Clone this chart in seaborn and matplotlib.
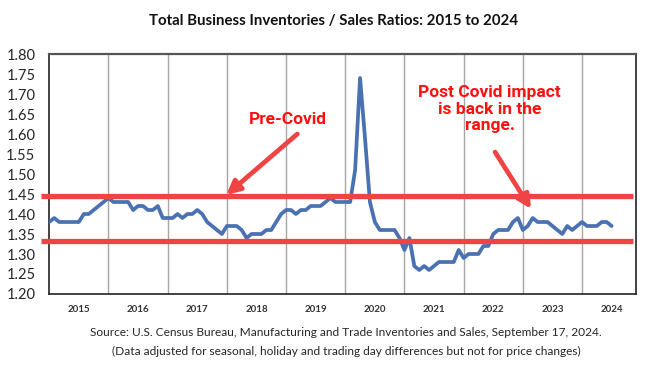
import numpy as np
import pandas as pd
import matplotlib
matplotlib.use("Agg")
import matplotlib.pyplot as plt
import seaborn as sns

# monthly inventories/sales ratio, Jan 2015 .. Jul 2024
start_year = 2015
ratios = [
    1.38, 1.39, 1.38, 1.38, 1.38, 1.38, 1.38, 1.40, 1.40, 1.41, 1.42, 1.43,  # 2015
    1.44, 1.43, 1.43, 1.43, 1.43, 1.41, 1.42, 1.42, 1.41, 1.41, 1.42, 1.39,  # 2016
    1.39, 1.39, 1.40, 1.39, 1.40, 1.40, 1.41, 1.40, 1.38, 1.37, 1.36, 1.35,  # 2017
    1.37, 1.37, 1.37, 1.36, 1.34, 1.35, 1.35, 1.35, 1.36, 1.36, 1.38, 1.40,  # 2018
    1.41, 1.41, 1.40, 1.41, 1.41, 1.42, 1.42, 1.42, 1.43, 1.44, 1.43, 1.43,  # 2019
    1.43, 1.43, 1.51, 1.74, 1.59, 1.43, 1.38, 1.36, 1.36, 1.36, 1.36, 1.34,  # 2020
    1.31, 1.34, 1.27, 1.26, 1.27, 1.26, 1.27, 1.28, 1.28, 1.28, 1.28, 1.31,  # 2021
    1.29, 1.30, 1.30, 1.30, 1.32, 1.32, 1.35, 1.36, 1.36, 1.36, 1.38, 1.39,  # 2022
    1.36, 1.37, 1.39, 1.38, 1.38, 1.38, 1.37, 1.36, 1.35, 1.37, 1.36, 1.37,  # 2023
    1.38, 1.37, 1.37, 1.37, 1.38, 1.38, 1.37,                                # 2024
]
years = list(range(2015, 2025))
year_labels = [str(y) for y in years]
yticks = [1.20, 1.25, 1.30, 1.35, 1.40, 1.45, 1.50, 1.55, 1.60, 1.65, 1.70, 1.75, 1.80]
range_high = 1.445
range_low = 1.333

df = pd.DataFrame({"t": start_year + np.arange(len(ratios)) / 12.0, "ratio": ratios})

sns.set_style("white")
plt.rcParams["font.family"] = ["Lato", "DejaVu Sans"]

fig = plt.figure(figsize=(6.58, 3.73), dpi=100)
ax = fig.add_axes([0.0749, 0.2118, 0.8917, 0.6434])

# year separators
for y in years[1:]:
    ax.axvline(y, color="#a6a6a6", lw=1.0, zorder=1)

sns.lineplot(data=df, x="t", y="ratio", ax=ax, color="#4a72b2", lw=2.7, zorder=3)

red = "#f04444"
for lvl in [range_high, range_low]:
    ax.plot([start_year - 0.14, start_year + 9.86], [lvl, lvl], color=red, lw=3.8,
            solid_capstyle="butt", clip_on=False, zorder=4)

ax.set_xlim(start_year, start_year + 9.912)
ax.set_ylim(1.20, 1.80)
ax.set_yticks(yticks)
ax.set_yticklabels([f"{v:.2f}" for v in yticks], fontsize=10.5)
ax.set_xticks([y + 0.5 for y in years])
ax.set_xticklabels(year_labels, fontsize=7, weight="bold", color="#333333")
ax.tick_params(axis="both", length=0)
ax.tick_params(axis="x", pad=8)
ax.tick_params(axis="y", pad=10)
ax.set_xlabel("")
ax.set_ylabel("")
for side in ["left", "bottom", "right"]:
    ax.spines[side].set_color("#222222")
    ax.spines[side].set_linewidth(1.2)
ax.spines["top"].set_color("#555555")
ax.spines["top"].set_linewidth(1.6)

annot_font = ["Liberation Sans Narrow", "Roboto", "DejaVu Sans"]
ax.annotate("", xy=(2017.99, 1.4475), xytext=(2019.19, 1.60),
            arrowprops=dict(arrowstyle="-|>", color=red, lw=3.4, mutation_scale=20,
                            shrinkA=0, shrinkB=0), zorder=5)
ax.text(2019.03, 1.6375, "Pre-Covid", color="#ff1010", fontsize=12.5, weight="bold",
        family=annot_font, ha="center", va="center", zorder=6)

ax.annotate("", xy=(2023.14, 1.4125), xytext=(2022.53, 1.555),
            arrowprops=dict(arrowstyle="-|>", color=red, lw=3.4, mutation_scale=20,
                            shrinkA=0, shrinkB=0), zorder=5)
ax.text(2022.44, 1.6625, "Post Covid impact\nis back in the\nrange.", color="#ff1010",
        fontsize=12.5, weight="bold", family=annot_font, ha="center", va="center",
        linespacing=1.1, zorder=6)

fig.text(0.5076, 1 - 21 / 373, "Total Business Inventories / Sales Ratios: 2015 to 2024",
         ha="center", va="center", fontsize=10.8, weight="bold", color="#111111")
fig.text(346 / 658, 1 - 332 / 373,
         "Source: U.S. Census Bureau, Manufacturing and Trade Inventories and Sales, September 17, 2024.",
         ha="center", va="center", fontsize=8.6)
fig.text(346 / 658, 1 - 351 / 373,
         "(Data adjusted for seasonal, holiday and trading day differences but not for price changes)",
         ha="center", va="center", fontsize=8.6)

fig.savefig("out.png", dpi=100)
